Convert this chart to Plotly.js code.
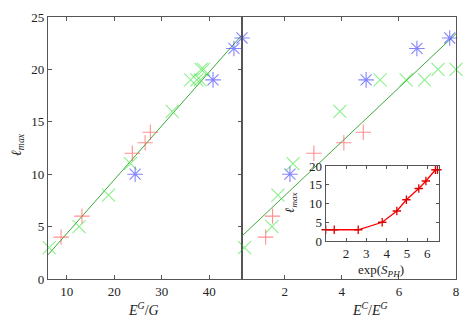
<!DOCTYPE html>
<html>
<head>
<meta charset="utf-8">
<script src="https://cdn.plot.ly/plotly-3.0.1.min.js"></script>
<style>
  html, body { margin: 0; padding: 0; background: #fff; }
  #chart { width: 466px; height: 327px; }
</style>
</head>
<body>
<div id="chart"></div>
<script>
// left panel: l_max vs E^G/G
var leftRedX = [6.0, 8.8, 13.2, 23.8, 26.5, 27.6];
var leftRedY = [3, 4, 6, 12, 13, 14];
var leftGreenX = [6.3, 12.6, 18.8, 23.4, 32.2, 36.1, 37.4, 38.1, 38.3, 38.8];
var leftGreenY = [3, 5, 8, 11, 16, 19, 19, 19, 20, 20];
var leftBlueX = [24.4, 40.8, 45.2, 46.9];
var leftBlueY = [10, 19, 22, 23];
var leftFitX = [6.05, 46.9];
var leftFitY = [2.3, 23.3];

// right panel: l_max vs E^C/E^G
var rightRedX = [0.48, 1.33, 1.57, 3.02, 4.07, 4.75];
var rightRedY = [3, 4, 6, 12, 13, 14];
var rightGreenX = [0.59, 1.55, 1.76, 2.29, 3.93, 5.34, 6.25, 6.9, 7.37, 8.0];
var rightGreenY = [3, 5, 8, 11, 16, 19, 19, 19, 20, 20];
var rightBlueX = [2.18, 4.85, 6.63, 7.78];
var rightBlueY = [10, 19, 22, 23];
var rightFitX = [0.5, 8.0];
var rightFitY = [4.1, 23.4];

// inset: l_max vs exp(S_PH)
var insetX = [1.0, 1.42, 2.6, 3.78, 4.5, 4.97, 5.58, 5.93, 6.4, 6.5];
var insetY = [3, 3, 3, 5, 8, 11, 14, 16, 19, 19];

var W = 466, H = 327;
function px(x) { return x / W; }
function py(y) { return (H - y) / H; }

var redMarker = { symbol: 'cross-thin-open', size: 11, color: 'rgba(255,70,70,0.6)', line: { color: 'rgba(255,70,70,0.6)', width: 1.1 } };
var greenMarker = { symbol: 'x-thin-open', size: 13, color: 'rgba(60,230,60,0.6)', line: { color: 'rgba(60,230,60,0.6)', width: 1.1 } };
var blueMarker = { symbol: 'asterisk-open', size: 13, color: 'rgba(50,50,255,0.6)', line: { color: 'rgba(50,50,255,0.6)', width: 1.1 } };
var fitLine = { color: '#22a022', width: 0.9 };

function pts(x, y, m, xa, ya) {
    return { type: 'scatter', mode: 'markers', x: x, y: y, marker: m, xaxis: xa, yaxis: ya, cliponaxis: false, hoverinfo: 'x+y' };
}
function fit(x, y, xa, ya) {
    return { type: 'scatter', mode: 'lines', x: x, y: y, line: fitLine, xaxis: xa, yaxis: ya, hoverinfo: 'none' };
}

var data = [
    fit(leftFitX, leftFitY, 'x', 'y'),
    pts(leftRedX, leftRedY, redMarker, 'x', 'y'),
    pts(leftGreenX, leftGreenY, greenMarker, 'x', 'y'),
    pts(leftBlueX, leftBlueY, blueMarker, 'x', 'y'),
    fit(rightFitX, rightFitY, 'x2', 'y2'),
    pts(rightRedX, rightRedY, redMarker, 'x2', 'y2'),
    pts(rightGreenX, rightGreenY, greenMarker, 'x2', 'y2'),
    pts(rightBlueX, rightBlueY, blueMarker, 'x2', 'y2'),
    {
        type: 'scatter', mode: 'lines+markers', x: insetX, y: insetY,
        xaxis: 'x3', yaxis: 'y3', cliponaxis: false,
        line: { color: '#ff0000', width: 1.3 },
        marker: { symbol: 'cross-thin-open', size: 6, color: '#dd0000', line: { color: '#dd0000', width: 1.3 } }
    }
];

var frame = '#555';
var axisBase = {
    showgrid: false, zeroline: false, showline: true, linecolor: frame, linewidth: 1.2,
    ticks: 'inside', ticklen: 4, tickcolor: frame, tickwidth: 1, mirror: 'ticks',
    tickfont: { family: 'Liberation Serif', size: 13, color: '#222' }
};
function ax(extra) { return Object.assign({}, JSON.parse(JSON.stringify(axisBase)), extra); }

var titleFont = { family: 'Liberation Serif', size: 14, color: '#222' };
function label(text, x, y, angle, size) {
    var f = Object.assign({}, titleFont);
    if (size) f.size = size;
    return { text: text, x: px(x), y: py(y), xref: 'paper', yref: 'paper', xanchor: 'center', yanchor: 'middle',
             textangle: angle || 0, showarrow: false, font: f };
}

var layout = {
    width: W, height: H,
    margin: { l: 0, r: 0, t: 0, b: 0 },
    paper_bgcolor: '#fff', plot_bgcolor: '#fff',
    showlegend: false,
    font: { family: 'Liberation Serif', color: '#222' },
    xaxis: ax({ domain: [px(48), px(242)], range: [6.05, 46.9], tickvals: [10, 20, 30, 40], anchor: 'y' }),
    yaxis: ax({ domain: [py(279), py(17)], range: [0, 25], tickvals: [0, 5, 10, 15, 20, 25], anchor: 'x' }),
    xaxis2: ax({ domain: [px(242), px(456)], range: [0.5, 8], tickvals: [2, 4, 6, 8], anchor: 'y2' }),
    yaxis2: ax({ domain: [py(279), py(17)], range: [0, 25], anchor: 'x2', ticks: '', showticklabels: false, mirror: true }),
    xaxis3: ax({ domain: [px(325.7), px(438.5)], range: [1, 6.55], tickvals: [2, 3, 4, 5, 6], anchor: 'y3', ticklen: 3 }),
    yaxis3: ax({ domain: [py(241), py(166)], range: [0, 20], tickvals: [0, 5, 10, 15, 20], anchor: 'x3', ticklen: 3 }),
    annotations: [
        label('<i>ℓ<sub>max</sub></i>', 17, 145, -90),
        label('<i>E<sup>G</sup></i>/<i>G</i>', 143, 309),
        label('<i>E<sup>C</sup></i>/<i>E<sup>G</sup></i>', 370, 309),
        label('exp(<i>S<sub>PH</sub></i>)', 381, 270, 0, 13),
        label('<i>ℓ<sub>max</sub></i>', 290, 203, -90, 13)
    ]
};

Plotly.newPlot('chart', data, layout, { displayModeBar: false, staticPlot: true });
</script>
</body>
</html>
